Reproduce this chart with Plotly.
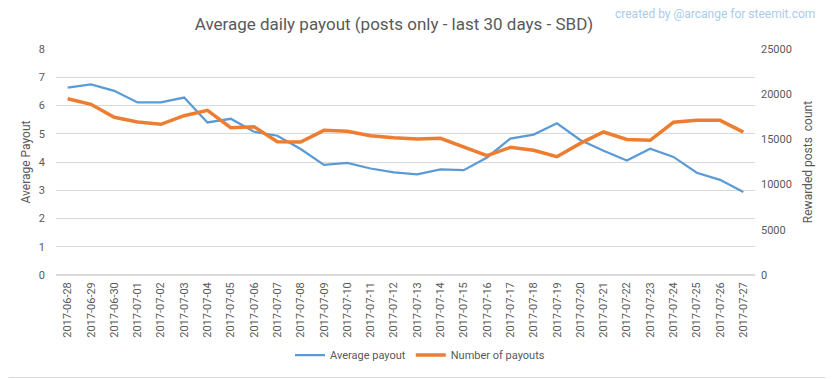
import plotly.graph_objects as go

dates = ["2017-06-28", "2017-06-29", "2017-06-30", "2017-07-01", "2017-07-02", "2017-07-03",
         "2017-07-04", "2017-07-05", "2017-07-06", "2017-07-07", "2017-07-08", "2017-07-09",
         "2017-07-10", "2017-07-11", "2017-07-12", "2017-07-13", "2017-07-14", "2017-07-15",
         "2017-07-16", "2017-07-17", "2017-07-18", "2017-07-19", "2017-07-20", "2017-07-21",
         "2017-07-22", "2017-07-23", "2017-07-24", "2017-07-25", "2017-07-26", "2017-07-27"]

avg_payout = [6.63, 6.75, 6.52, 6.11, 6.11, 6.28, 5.40, 5.53, 5.07, 4.93,
              4.46, 3.90, 3.97, 3.77, 3.63, 3.56, 3.74, 3.71, 4.16, 4.83,
              4.97, 5.37, 4.78, 4.40, 4.05, 4.47, 4.18, 3.62, 3.37, 2.94]

num_payouts = [19500, 18880, 17440, 16925, 16670, 17625, 18215, 16300, 16410, 14750,
               14710, 16000, 15890, 15410, 15190, 15040, 15120, 14120, 13200, 14120,
               13790, 13090, 14560, 15820, 15000, 14900, 16890, 17110, 17110, 15800]

FONT = "Roboto, sans-serif"
GRAY = "#595959"
GRID = "#D9D9D9"

fig = go.Figure()
fig.add_trace(go.Scatter(x=dates, y=avg_payout, name="Average payout", mode="lines",
                         line=dict(color="#5B9BD5", width=2.25), yaxis="y"))
fig.add_trace(go.Scatter(x=dates, y=num_payouts, name="Number of payouts", mode="lines",
                         line=dict(color="#ED7D31", width=3.5), yaxis="y2"))

# page offset (body margin) compensation
OFF = 8
W, H = 833 - OFF, 379 - OFF
L, T = 56 - OFF, 49 - OFF
R = W - (755 - OFF)
B = H - (275 - OFF)
pw, ph = W - L - R, H - T - B

def px(X):
    return (X - OFF - L) / pw

def py(Y):
    return (H - B - (Y - OFF)) / ph

fig.update_layout(
    width=W, height=H,
    margin=dict(l=L, r=R, t=T, b=B, pad=0, autoexpand=False),
    paper_bgcolor="white", plot_bgcolor="white",
    font=dict(family=FONT, color=GRAY, size=11),
    title=dict(text="Average daily payout (posts only - last 30 days - SBD)",
               x=(394 - OFF) / W, xref="container", xanchor="center",
               y=1 - (24 - OFF) / H, yref="container", yanchor="middle",
               font=dict(size=17, color=GRAY, family=FONT)),
    xaxis=dict(type="category", range=[-0.5, len(dates) - 0.5], tickangle=-90,
               showgrid=False, showline=False,
               ticks="", tickfont=dict(size=11, color=GRAY), ticklabelstandoff=4,
               automargin=False),
    yaxis=dict(range=[0, 8], dtick=1, showgrid=True, gridcolor=GRID, gridwidth=1,
               zeroline=True, zerolinecolor=GRID, showline=False, ticks="",
               tickfont=dict(size=11, color=GRAY), ticklabelstandoff=10, automargin=False,
               title=dict(text="Average Payout", font=dict(size=12, color=GRAY), standoff=5)),
    yaxis2=dict(range=[0, 25000], dtick=5000, tickformat="d", overlaying="y", side="right",
                showgrid=False, zeroline=False, showline=False, ticks="",
                tickfont=dict(size=11, color=GRAY), ticklabelstandoff=5, automargin=False,
                title=dict(text="Rewarded posts  count", font=dict(size=12, color=GRAY), standoff=12)),
    legend=dict(orientation="h", x=px(420), xanchor="center", y=py(355), yanchor="middle",
                font=dict(size=11, color=GRAY), bgcolor="rgba(0,0,0,0)"),
    showlegend=True,
)

fig.add_annotation(text="created by @arcange for steemit.com", xref="paper", yref="paper",
                   x=px(715), y=py(14), xanchor="center", yanchor="middle", showarrow=False,
                   font=dict(size=12, color="#A9CBEA", family=FONT))

# chart-area border (right and bottom edges fall inside the drawable page)
fig.add_shape(type="line", xref="paper", yref="paper",
              x0=px(829.5), x1=px(829.5), y0=py(377.5), y1=py(OFF + 0.5),
              line=dict(color=GRID, width=1), layer="below")
fig.add_shape(type="line", xref="paper", yref="paper",
              x0=px(OFF + 0.5), x1=px(829.5), y0=py(377.5), y1=py(377.5),
              line=dict(color=GRID, width=1), layer="below")

fig.write_html("out.html")
